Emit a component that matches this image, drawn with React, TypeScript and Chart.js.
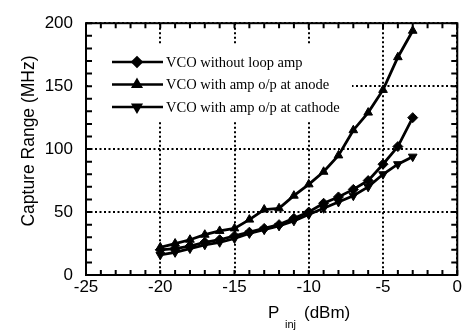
import React, { useEffect, useRef } from 'react';
import { Chart, registerables } from 'chart.js';
import { drawPoint } from 'chart.js/helpers';

Chart.register(...registerables);

const pinj = [-20, -19, -18, -17, -16, -15, -14, -13, -12, -11, -10, -9, -8, -7, -6, -5, -4, -3];
const withoutLoopAmp = [20, 21, 23, 26, 28, 31, 34, 37, 40, 45, 50, 57, 62, 68, 75, 88, 102, 125];
const ampAtAnode = [22, 25, 28, 32, 35, 37, 44, 52, 53, 63, 72, 82, 95, 115, 129, 147, 173, 194];
const ampAtCathode = [16, 18, 21, 24, 26, 29, 33, 36, 39, 43, 48, 53, 58, 63, 70, 80, 88, 94];
const seriesLabels = ['VCO without loop amp', 'VCO with amp o/p at anode', 'VCO with amp o/p at cathode'];
const xTickLabels = [-25, -20, -15, -10, -5, 0];
const yTickLabels = [0, 50, 100, 150, 200];
const yAxisTitle = 'Capture Range (MHz)';
const xAxisTitleMain = 'P';
const xAxisTitleSub = 'inj';
const xAxisTitleUnit = '(dBm)';

const SANS = '"Liberation Sans", Arial, sans-serif';
const SERIF = '"Liberation Serif", "Times New Roman", serif';

const framePlugin = {
  id: 'frame',
  beforeDatasetsDraw(chart: any) {
    const ctx = chart.ctx;
    ctx.save();
    ctx.fillStyle = '#ffffff';
    const a = chart.chartArea;
    ctx.fillRect(a.left + 2, 44, 350 - a.left, 76);
    ctx.restore();
  },
  afterDraw(chart: any) {
    const ctx = chart.ctx;
    const a = chart.chartArea;
    const xs = chart.scales.x;
    const ys = chart.scales.y;
    ctx.save();
    ctx.strokeStyle = '#000';
    ctx.lineWidth = 2;
    ctx.strokeRect(a.left, a.top, a.right - a.left, a.bottom - a.top);
    ctx.beginPath();
    for (let v = -25; v <= 0; v += 1) {
      const px = xs.getPixelForValue(v);
      ctx.moveTo(px, a.bottom);
      ctx.lineTo(px, a.bottom - 5);
      ctx.moveTo(px, a.top);
      ctx.lineTo(px, a.top + 5);
    }
    for (let v = 0; v <= 200; v += 10) {
      const py = ys.getPixelForValue(v);
      ctx.moveTo(a.left, py);
      ctx.lineTo(a.left + 6, py);
      ctx.moveTo(a.right, py);
      ctx.lineTo(a.right - 6, py);
    }
    ctx.stroke();

    const ds = chart.data.datasets;
    for (let i = 0; i < ds.length; i++) {
      const y = 62 + i * 22.5;
      ctx.lineWidth = 2.5;
      ctx.strokeStyle = '#000';
      ctx.beginPath();
      ctx.moveTo(112, y);
      ctx.lineTo(163, y);
      ctx.stroke();
      ctx.fillStyle = '#000';
      drawPoint(ctx, {
        pointStyle: ds[i].pointStyle,
        radius: 4.5,
        rotation: ds[i].pointRotation || 0,
        borderWidth: 1,
      } as any, 137, y);
      ctx.font = '14.5px ' + SERIF;
      ctx.textBaseline = 'middle';
      ctx.textAlign = 'left';
      ctx.fillText(ds[i].label, 166, y + 1);
    }

    ctx.fillStyle = '#000';
    ctx.font = '17.5px ' + SANS;
    ctx.textBaseline = 'middle';
    ctx.save();
    ctx.translate(29, 141);
    ctx.rotate(-Math.PI / 2);
    ctx.textAlign = 'center';
    ctx.fillText(yAxisTitle, 0, 0);
    ctx.restore();

    ctx.textAlign = 'left';
    ctx.font = '17px ' + SANS;
    ctx.fillText(xAxisTitleMain, 268, 313);
    ctx.font = '11px ' + SANS;
    ctx.fillText(xAxisTitleSub, 285, 325);
    ctx.font = '17px ' + SANS;
    ctx.fillText(xAxisTitleUnit, 304, 313);
    ctx.restore();
  },
};

export default function App() {
  const ref = useRef<HTMLCanvasElement>(null);
  useEffect(() => {
    document.body.style.margin = '0';
    const mk = (label: string, vals: number[], style: string, rot: number, r: number) => ({
      label,
      data: pinj.map((x, i) => ({ x, y: vals[i] })),
      borderColor: '#000',
      backgroundColor: '#000',
      borderWidth: 2.8,
      pointStyle: style,
      pointRotation: rot,
      pointRadius: r,
      pointBackgroundColor: '#000',
      pointBorderColor: '#000',
      pointBorderWidth: 1,
      tension: 0,
    });
    const chart = new Chart(ref.current as HTMLCanvasElement, {
      type: 'line',
      data: {
        datasets: [
          mk(seriesLabels[0], withoutLoopAmp, 'rectRot', 0, 5),
          mk(seriesLabels[1], ampAtAnode, 'triangle', 0, 5),
          mk(seriesLabels[2], ampAtCathode, 'triangle', 180, 5),
        ] as any,
      },
      options: {
        animation: false,
        responsive: false,
        devicePixelRatio: 1,
        layout: { padding: { top: 18, right: 4, left: 0, bottom: 0 } },
        plugins: { legend: { display: false }, tooltip: { enabled: false } },
        scales: {
          x: {
            type: 'linear',
            min: -25,
            max: 0,
            afterBuildTicks: (s: any) => { s.ticks = xTickLabels.map((v) => ({ value: v })); },
            afterFit: (s: any) => { s.height = 56; },
            ticks: { color: '#000', font: { family: SANS, size: 17 }, padding: 2, autoSkip: false, maxRotation: 0 },
            grid: { color: '#000', lineWidth: 2, drawTicks: false },
            border: { display: false, dash: [2, 2.5] },
          },
          y: {
            type: 'linear',
            min: 0,
            max: 200,
            afterBuildTicks: (s: any) => { s.ticks = yTickLabels.map((v) => ({ value: v })); },
            afterFit: (s: any) => { s.width = 86; },
            ticks: { color: '#000', font: { family: SANS, size: 17 }, padding: 13, autoSkip: false },
            grid: { color: '#000', lineWidth: 2, drawTicks: false },
            border: { display: false, dash: [2, 2.5] },
          },
        },
      },
      plugins: [framePlugin],
    });
    return () => chart.destroy();
  }, []);
  return <canvas ref={ref} width={464} height={331} style={{ display: 'block', width: 464, height: 331 }} />;
}
